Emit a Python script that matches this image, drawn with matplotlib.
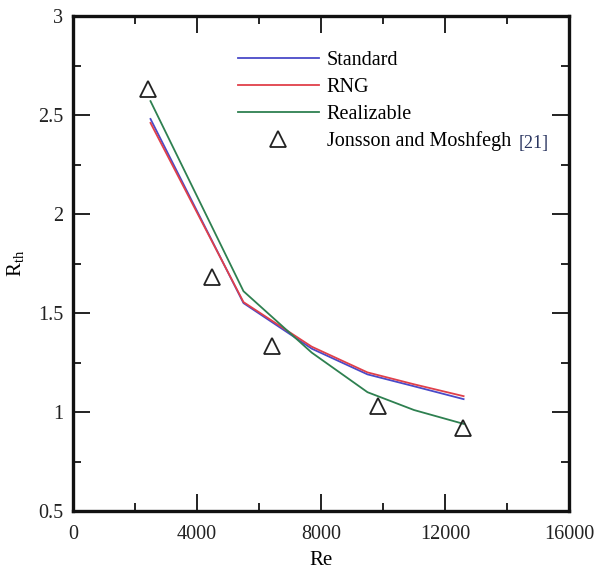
import matplotlib
matplotlib.use("Agg")
import matplotlib.pyplot as plt
from matplotlib.ticker import MultipleLocator

plt.rcParams['font.family'] = ['Liberation Serif', 'DejaVu Serif']
plt.rcParams['mathtext.fontset'] = 'custom'
plt.rcParams['mathtext.rm'] = 'Liberation Serif'

re_sim = [2500, 5500, 7700, 9500, 11000, 12600]
standard = [2.48, 1.55, 1.32, 1.19, 1.13, 1.065]
rng = [2.46, 1.555, 1.33, 1.20, 1.14, 1.08]
realizable = [2.57, 1.61, 1.30, 1.10, 1.01, 0.94]

re_exp = [2420, 4480, 6420, 9840, 12580]
rth_exp = [2.63, 1.68, 1.335, 1.03, 0.92]

fig = plt.figure(figsize=(5.98, 5.69), dpi=100)
ax = fig.add_axes([73/598, 1-511/569, 496/598, 495/569])

ax.plot(re_sim, standard, color='#4a4ac8', lw=1.3, label='Standard')
ax.plot(re_sim, rng, color='#e0404a', lw=1.3, label='RNG')
ax.plot(re_sim, realizable, color='#2e8050', lw=1.3, label='Realizable')
ax.plot(re_exp, rth_exp, linestyle='none', marker='^', ms=11, mfc='none',
        mec='#222222', mew=1.3, label='Jonsson and Moshfegh')

ax.set_xlim(0, 16000)
ax.set_ylim(0.5, 3)
ax.xaxis.set_major_locator(MultipleLocator(4000))
ax.xaxis.set_minor_locator(MultipleLocator(2000))
ax.yaxis.set_major_locator(MultipleLocator(0.5))
ax.yaxis.set_minor_locator(MultipleLocator(0.25))
ax.xaxis.set_major_formatter(plt.FuncFormatter(lambda v, p: f"{int(v)}"))
ax.yaxis.set_major_formatter(plt.FuncFormatter(lambda v, p: f"{v:g}"))

ax.tick_params(which='major', direction='in', length=12, width=1.4,
               top=True, right=True, labelsize=14.5, pad=7, colors='#222222')
ax.tick_params(axis='x', which='major', pad=10)
ax.tick_params(which='minor', direction='in', length=6, width=1.2,
               top=True, right=True)
for s in ax.spines.values():
    s.set_linewidth(2.4)
    s.set_color('#111111')

ax.set_xlabel('Re', fontsize=15, labelpad=5)
ax.set_ylabel(r'R$_{\rm th}$', fontsize=15, labelpad=8)

leg = ax.legend(loc='upper left', bbox_to_anchor=(0.333, 0.929), frameon=False,
                fontsize=14.5, handlelength=4.0, handletextpad=0.4,
                labelspacing=0.38, borderpad=0, borderaxespad=0)
ax.text(0.899, 0.743, '[21]', transform=ax.transAxes, fontsize=13,
        color='#2a3560', va='center', ha='left')

fig.savefig('out.png', dpi=100)
